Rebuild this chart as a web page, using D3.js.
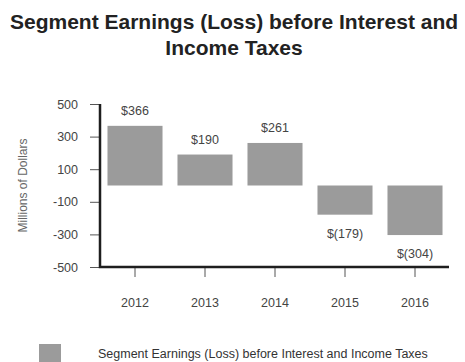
<!DOCTYPE html>
<html>
<head>
<meta charset="utf-8">
<script src="https://cdn.jsdelivr.net/npm/d3@7"></script>
<style>
  html, body { margin: 0; padding: 0; background: #fff; }
  svg { display: block; font-family: "Liberation Sans", Arial, sans-serif; }
</style>
</head>
<body>
<svg id="chart" width="465" height="362"></svg>
<script>
// Segment earnings by year, millions of dollars
const years = ["2012", "2013", "2014", "2015", "2016"];
const earnings = [366, 190, 261, -179, -304];
const valueLabels = ["$366", "$190", "$261", "$(179)", "$(304)"];
const yTicks = [500, 300, 100, -100, -300, -500];
const titleLines = ["Segment Earnings (Loss) before Interest and", "Income Taxes"];
const seriesName = "Segment Earnings (Loss) before Interest and Income Taxes";

const svg = d3.select("#chart");
const barColor = "#9b9b9b";
const textColor = "#444";
const font = "Liberation Sans, Arial, sans-serif";

// Title
svg.append("g").selectAll("text")
  .data(titleLines)
  .join("text")
  .attr("x", 234)
  .attr("y", (d, i) => 29 + i * 26)
  .attr("text-anchor", "middle")
  .attr("font-size", 21)
  .attr("font-weight", "bold")
  .attr("fill", "#222")
  .text(d => d);

// Scales
const plot = { left: 100, right: 449, top: 104, bottom: 267 };
const x = d3.scaleBand()
  .domain(years)
  .range([plot.left, plot.left + 70 * years.length])
  .paddingInner(0.214)
  .paddingOuter(0.107);
const y = d3.scaleLinear()
  .domain([-500, 500])
  .range([plot.bottom, plot.top]);

// Bars
svg.append("g").selectAll("rect")
  .data(years)
  .join("rect")
  .attr("x", d => x(d))
  .attr("width", x.bandwidth())
  .attr("y", (d, i) => y(Math.max(0, earnings[i])))
  .attr("height", (d, i) => Math.abs(y(earnings[i]) - y(0)))
  .attr("fill", barColor);

// Value labels
svg.append("g").selectAll("text")
  .data(years)
  .join("text")
  .attr("x", d => x(d) + x.bandwidth() / 2)
  .attr("y", (d, i) => earnings[i] >= 0 ? y(earnings[i]) - 11 : y(earnings[i]) + 23)
  .attr("text-anchor", "middle")
  .attr("font-size", 12.5)
  .attr("fill", textColor)
  .text((d, i) => valueLabels[i]);

// Y axis
const yAxis = svg.append("g")
  .attr("transform", `translate(${plot.left},0)`)
  .call(d3.axisLeft(y).tickValues(yTicks).tickSize(10).tickPadding(12).tickFormat(d => String(d)));
yAxis.select(".domain").remove();
yAxis.selectAll(".tick line").attr("stroke", "#555").attr("stroke-width", 1);
yAxis.selectAll(".tick text").attr("font-size", 12.5).attr("fill", textColor).attr("font-family", font);

// X axis
const xAxis = svg.append("g")
  .attr("transform", `translate(0,${plot.bottom})`)
  .call(d3.axisBottom(x).tickSize(10).tickPadding(21));
xAxis.select(".domain").remove();
xAxis.selectAll(".tick line").attr("stroke", "#555").attr("stroke-width", 1);
xAxis.selectAll(".tick text").attr("font-size", 12.5).attr("fill", textColor).attr("font-family", font);

// Axis lines
svg.append("path")
  .attr("d", `M${plot.left},${plot.top}V${plot.bottom}H${plot.right}`)
  .attr("fill", "none")
  .attr("stroke", "#1e1e1e")
  .attr("stroke-width", 2.5);

// Y axis title
svg.append("text")
  .attr("transform", `translate(27,${(plot.top + plot.bottom) / 2}) rotate(-90)`)
  .attr("text-anchor", "middle")
  .attr("font-size", 12)
  .attr("fill", "#666")
  .text("Millions of Dollars");

// Legend
svg.append("rect")
  .attr("x", 39).attr("y", 344)
  .attr("width", 22).attr("height", 22)
  .attr("fill", barColor);
svg.append("text")
  .attr("x", 98).attr("y", 358)
  .attr("font-size", 12.5)
  .attr("fill", "#333")
  .text(seriesName);
</script>
</body>
</html>
